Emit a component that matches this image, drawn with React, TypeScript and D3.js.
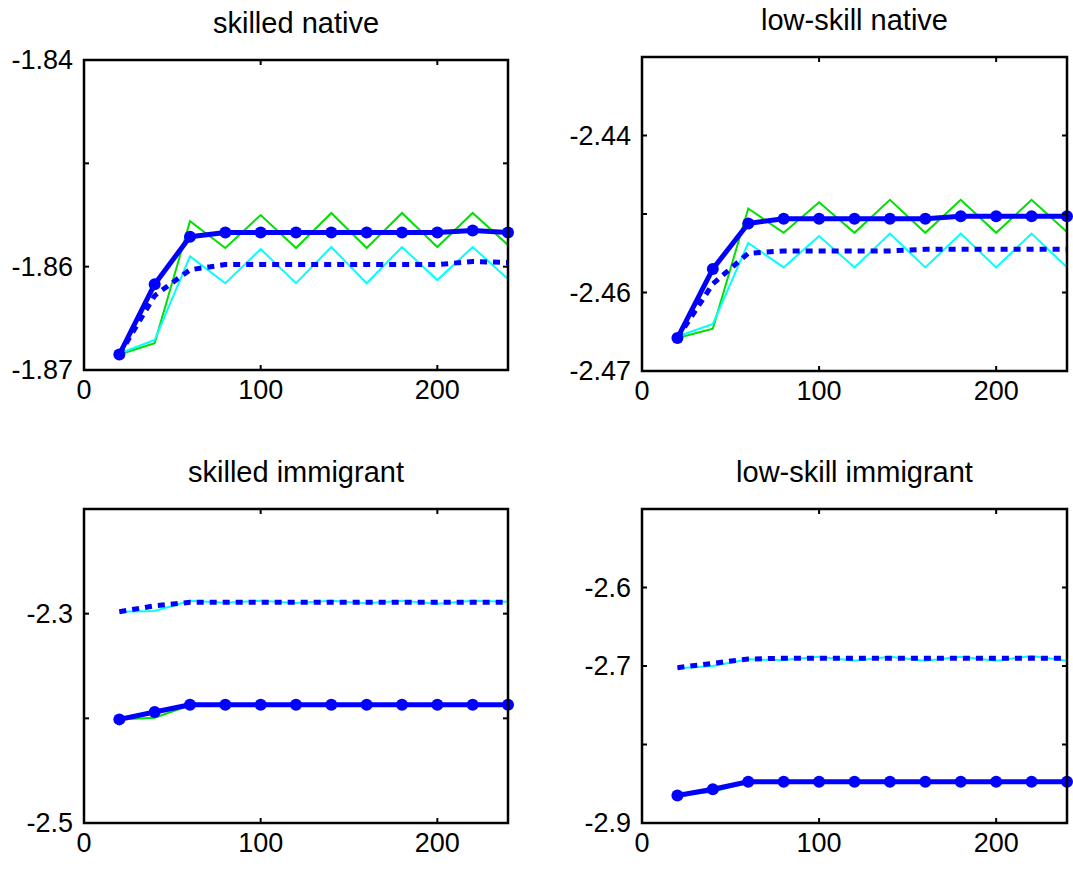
import * as d3 from "d3";

// x positions shared by every series
const xValues = [20, 40, 60, 80, 100, 120, 140, 160, 180, 200, 220, 240];
const xTicks = [0, 100, 200];

const titles = ["skilled native", "low-skill native", "skilled immigrant", "low-skill immigrant"];

// skilled native
const snGreen = [-1.8685, -1.8674, -1.8556, -1.8582, -1.855, -1.8582, -1.8548, -1.8582, -1.8548, -1.8581, -1.8548, -1.8579];
const snCyan = [-1.8684, -1.8671, -1.859, -1.8616, -1.8583, -1.8616, -1.8581, -1.8616, -1.8581, -1.8613, -1.8581, -1.8612];
const snSolid = [-1.8685, -1.8617, -1.8571, -1.8567, -1.8567, -1.8567, -1.8567, -1.8567, -1.8567, -1.8567, -1.8565, -1.8567];
const snDotted = [-1.8685, -1.8628, -1.8603, -1.8598, -1.8598, -1.8598, -1.8598, -1.8598, -1.8598, -1.8598, -1.8595, -1.8596];

// low-skill native
const lnGreen = [-2.4658, -2.4646, -2.4493, -2.4524, -2.4485, -2.4524, -2.4482, -2.4524, -2.4482, -2.4524, -2.4482, -2.4523];
const lnCyan = [-2.4656, -2.464, -2.4537, -2.4568, -2.4528, -2.4568, -2.4525, -2.4568, -2.4525, -2.4568, -2.4525, -2.4568];
const lnSolid = [-2.4658, -2.457, -2.4512, -2.4506, -2.4506, -2.4506, -2.4506, -2.4506, -2.4503, -2.4503, -2.4503, -2.4503];
const lnDotted = [-2.4658, -2.4589, -2.455, -2.4547, -2.4547, -2.4547, -2.4547, -2.4545, -2.4545, -2.4545, -2.4545, -2.4545];

// skilled immigrant
const siGreen = [-2.401, -2.3995, -2.3875, -2.3868, -2.3865, -2.3868, -2.3865, -2.3868, -2.3865, -2.3868, -2.3865, -2.3868];
const siCyan = [-2.2981, -2.2975, -2.2876, -2.2895, -2.2876, -2.2899, -2.2876, -2.2901, -2.2876, -2.2905, -2.2876, -2.2886];
const siSolid = [-2.401, -2.394, -2.387, -2.387, -2.387, -2.387, -2.387, -2.387, -2.387, -2.387, -2.387, -2.387];
const siDotted = [-2.2981, -2.2925, -2.2892, -2.2892, -2.2892, -2.2892, -2.2892, -2.2892, -2.2892, -2.2892, -2.2892, -2.2892];

// low-skill immigrant
const liGreen = [-2.865, -2.8601, -2.848, -2.8476, -2.8472, -2.8476, -2.8472, -2.8476, -2.8472, -2.8476, -2.8472, -2.8476];
const liCyan = [-2.7029, -2.7, -2.6915, -2.6925, -2.6882, -2.6932, -2.6882, -2.6932, -2.6882, -2.6932, -2.6873, -2.6932];
const liSolid = [-2.865, -2.857, -2.8475, -2.8475, -2.8475, -2.8475, -2.8475, -2.8475, -2.8475, -2.8475, -2.8475, -2.8475];
const liDotted = [-2.7021, -2.6966, -2.6911, -2.6902, -2.6902, -2.6902, -2.6902, -2.6902, -2.6902, -2.6902, -2.6902, -2.6902];

const yDomains = [[-1.87, -1.84], [-2.47, -2.43], [-2.5, -2.2], [-2.9, -2.5]];
const yTickValues = [
  [-1.87, -1.86, -1.85, -1.84],
  [-2.47, -2.46, -2.45, -2.44, -2.43],
  [-2.5, -2.4, -2.3, -2.2],
  [-2.9, -2.8, -2.7, -2.6, -2.5],
];
const yTickLabels = [
  ["-1.87", "-1.86", "", "-1.84"],
  ["-2.47", "-2.46", "", "-2.44", ""],
  ["-2.5", "", "-2.3", ""],
  ["-2.9", "", "-2.7", "-2.6", ""],
];

const seriesSets = [
  [snGreen, snCyan, snDotted, snSolid],
  [lnGreen, lnCyan, lnDotted, lnSolid],
  [siGreen, siCyan, siDotted, siSolid],
  [liGreen, liCyan, liDotted, liSolid],
];

// plot boxes: left, right, top, bottom
const boxes = [
  [84, 508, 60, 370],
  [642, 1067, 57, 371],
  [84, 508, 509, 823],
  [642, 1067, 509, 823],
];

const font = "'Liberation Sans', Arial, sans-serif";

function Panel({ i }: { i: number }) {
  const [l, r, t, b] = boxes[i];
  const x = d3.scaleLinear().domain([0, 240]).range([l, r]);
  const y = d3.scaleLinear().domain(yDomains[i]).range([b, t]);
  const line = d3.line<number>().x((_, k) => x(xValues[k])).y((v) => y(v));
  const [green, cyan, dotted, solid] = seriesSets[i];
  const tick = 5;

  return (
    <g>
      <text x={(l + r) / 2} y={t - 27} textAnchor="middle" fontSize={29} fontFamily={font}>
        {titles[i]}
      </text>
      <defs>
        <clipPath id={`clip${i}`}>
          <rect x={l - 8} y={t} width={r - l + 16} height={b - t} />
        </clipPath>
      </defs>
      <g clipPath={`url(#clip${i})`}>
        <path d={line(green) ?? ""} fill="none" stroke="#00e000" strokeWidth={2} />
        <path d={line(cyan) ?? ""} fill="none" stroke="#00ffff" strokeWidth={2} />
        <path d={line(dotted) ?? ""} fill="none" stroke="#0000ff" strokeWidth={5} strokeDasharray="7,6" />
        <path d={line(solid) ?? ""} fill="none" stroke="#0000ff" strokeWidth={5} strokeLinejoin="round" />
        {solid.map((v, k) => (
          <circle key={k} cx={x(xValues[k])} cy={y(v)} r={6} fill="#0000ff" />
        ))}
      </g>
      <rect x={l} y={t} width={r - l} height={b - t} fill="none" stroke="#000" strokeWidth={2.5} />
      {yTickValues[i].map((v, k) => (
        <g key={k}>
          <line x1={l} x2={l + tick} y1={y(v)} y2={y(v)} stroke="#000" strokeWidth={2} />
          <line x1={r} x2={r - tick} y1={y(v)} y2={y(v)} stroke="#000" strokeWidth={2} />
          {yTickLabels[i][k] && (
            <text x={l - 11} y={y(v)} dy="0.35em" textAnchor="end" fontSize={27} fontFamily={font}>
              {yTickLabels[i][k]}
            </text>
          )}
        </g>
      ))}
      {xTicks.map((v) => (
        <g key={v}>
          <line x1={x(v)} x2={x(v)} y1={b} y2={b - tick} stroke="#000" strokeWidth={2} />
          <line x1={x(v)} x2={x(v)} y1={t} y2={t + tick} stroke="#000" strokeWidth={2} />
          <text x={x(v)} y={b + 29} textAnchor="middle" fontSize={27} fontFamily={font}>
            {v}
          </text>
        </g>
      ))}
    </g>
  );
}

export default function App() {
  return (
    <svg width={1073} height={877} style={{ position: "absolute", left: 0, top: 0, background: "#fff" }}>
      <rect width={1073} height={877} fill="#fff" />
      {titles.map((_, i) => (
        <Panel key={i} i={i} />
      ))}
    </svg>
  );
}
